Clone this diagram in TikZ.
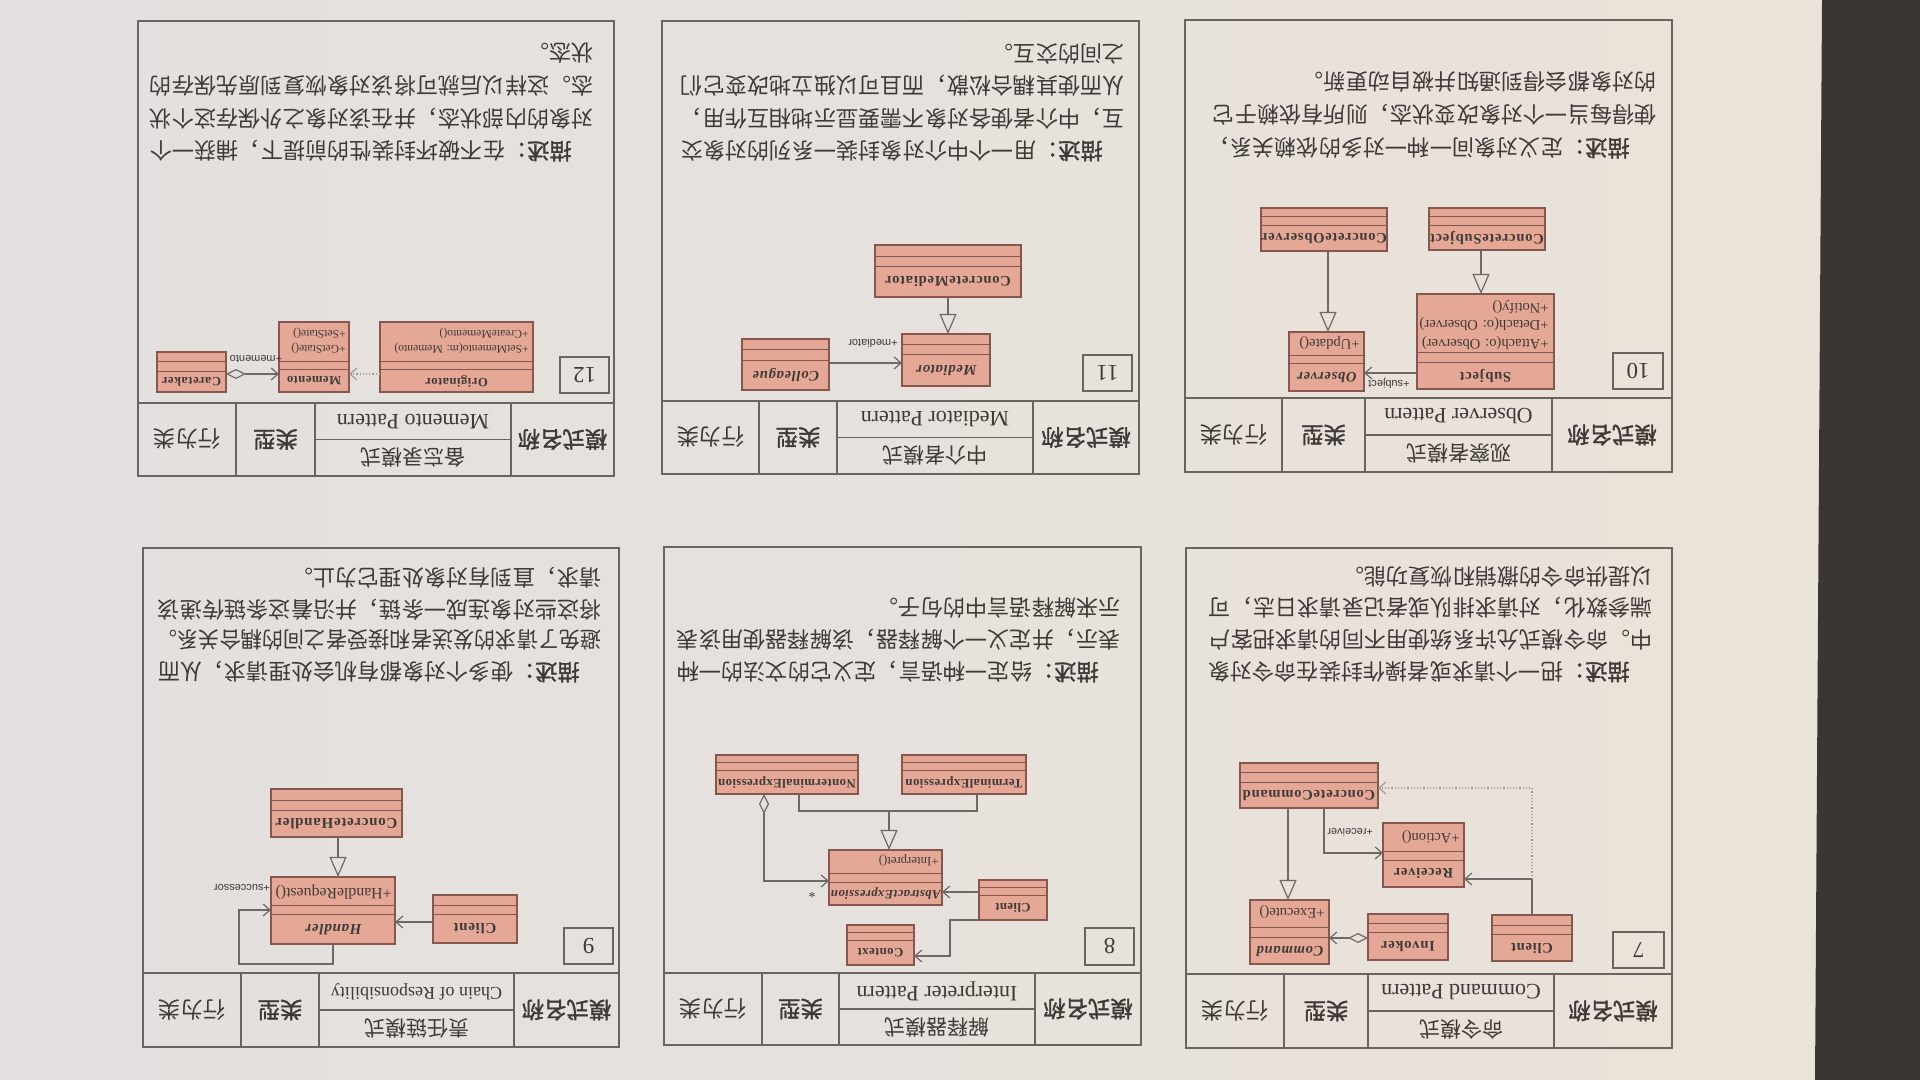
\documentclass[tikz,border=0pt]{standalone}
\usepackage{fontspec}
\setmainfont{Liberation Serif}
\newfontfamily\cjk{Noto Sans CJK SC}
\newfontfamily\cjkm[FakeBold=1.6]{Noto Sans CJK SC}
\newfontfamily\labfont{Liberation Sans}
\usetikzlibrary{arrows.meta}

\definecolor{paperL}{HTML}{E3E0DF}
\definecolor{paperR}{HTML}{EAE3D9}
\definecolor{desk}{HTML}{3A3634}
\definecolor{ink}{HTML}{3F3A38}
\definecolor{rulec}{HTML}{6A6460}
\definecolor{clsfill}{HTML}{E5A896}
\definecolor{clsedge}{HTML}{86574E}
\definecolor{connc}{HTML}{6E6966}
\definecolor{dotc}{HTML}{A39D99}

\tikzset{
  frame/.style={draw=rulec, line width=0.75pt, inner sep=0pt, outer sep=0pt},
  frameline/.style={draw=rulec, line width=0.75pt},
  hdbold/.style={text=ink, inner sep=0pt, font=\cjkm\fontsize{11.2pt}{13pt}\selectfont},
  hdreg/.style={text=ink, inner sep=0pt, font=\cjk\fontsize{11.2pt}{13pt}\selectfont},
  hdname/.style={text=ink, inner sep=0pt, font=\cjk\fontsize{10.5pt}{12pt}\selectfont},
  hden/.style={text=ink, inner sep=0pt, font=\fontsize{11pt}{13pt}\selectfont},
  desc/.style={text=ink, anchor=west, inner sep=0pt, font=\cjk\fontsize{11.1pt}{13pt}\selectfont},
  numbox/.style={draw=rulec, line width=0.75pt, inner sep=0pt, outer sep=0pt},
  numtxt/.style={text=ink, inner sep=0pt, font=\fontsize{11.5pt}{13pt}\selectfont},
  clsbox/.style={draw=clsedge, fill=clsfill, line width=0.55pt, inner sep=0pt, outer sep=0pt},
  clsrule/.style={draw=clsedge, line width=0.5pt},
  clsname/.style={text=ink, inner sep=0pt, font=\bfseries\fontsize{7.3pt}{8pt}\selectfont\addfontfeature{LetterSpace=5}},
  op/.style={text=ink, anchor=west, inner sep=0pt, font=\fontsize{7.3pt}{8pt}\selectfont},
  lab/.style={text=ink, inner sep=0pt, font=\labfont\fontsize{5.5pt}{6pt}\selectfont},
  conn/.style={draw=connc, line width=0.6pt},
  gen/.style={conn, -{Triangle[open, length=10pt, width=8.5pt]}},
  assoc/.style={conn, -{Straight Barb[length=3.5pt, width=6pt]}},
  aggr/.style={conn, {Diamond[open, length=10pt, width=5pt]}-{Straight Barb[length=3.5pt, width=6pt]}},
  dep/.style={draw=dotc, line width=0.6pt, densely dotted, -{Straight Barb[length=3.5pt, width=6pt]}},
}

% panel frame: id, U1, V1, U2, V2, header bottom, three column rules
\newcommand\pframe[9]{%
  \node[frame, anchor=north west, minimum width={(#4-#2)*0.5pt}, minimum height={(#5-#3)*0.5pt}] (#1) at (#2,#3) {};
  \draw[frameline] (#2,#6) -- (#4,#6) (#7,#3) -- (#7,#6) (#8,#3) -- (#8,#6) (#9,#3) -- (#9,#6)
    (#7,{(#3+#6)/2}) -- (#8,{(#3+#6)/2});
  \node[hdbold] (#1-a) at ({(#2+#7)/2},{(#3+#6)/2}) {模式名称};
  \node[hdbold] (#1-b) at ({(#8+#9)/2},{(#3+#6)/2}) {类型};
  \node[hdreg] (#1-c) at ({(#9+#4)/2},{(#3+#6)/2}) {行为类};
  \coordinate (#1-cn) at ({(#7+#8)/2},{(3*#3+#6)/4});
  \coordinate (#1-ec) at ({(#7+#8)/2},{(#3+3*#6)/4});
}
\newcommand\pnames[3]{%
  \node[hdname] (#1-zh) at (#1-cn) {#2};
  \node[hden] (#1-en) at (#1-ec) {#3};
}
\newcommand\numbox[6]{%
  \node[numbox, anchor=north west, minimum width={(#4-#2)*0.5pt}, minimum height={(#5-#3)*0.5pt}] (#1) at (#2,#3) {};
  \node[numtxt] (#1-t) at ({(#2+#4)/2},{(#3+#5)/2}) {#6};
}
% UML class: id, U1, V1, U2, V2, name height, attribute height, name
\newcommand\umlbox[8]{%
  \node[clsbox, anchor=north west, minimum width={(#4-#2)*0.5pt}, minimum height={(#5-#3)*0.5pt}] (#1) at (#2,#3) {};
  \draw[clsrule] (#2,{#3+#6}) -- (#4,{#3+#6}) (#2,{#3+#6+#7}) -- (#4,{#3+#6+#7});
  \node[clsname] (#1-n) at ({(#2+#4)/2},{#3+#6/2}) {#8};
}
\newcommand\bdesc[1]{{\cjkm #1}}

\begin{document}
\begin{tikzpicture}[x=0.5pt, y=0.5pt]
\useasboundingbox (0,0) rectangle (1920,1080);
\shade[left color=paperL, right color=paperR] (0,0) rectangle (1920,1080);
\fill[desk] (1822,1080) -- (1920,1080) -- (1920,0) -- (1815,0) -- cycle;

% the printed sheet lies upside down: draw it upright, then turn it
\begin{scope}[x=0.5pt, y=-0.5pt, shift={(960pt,0pt)}, rotate=180, transform shape]

% ---------------- 7: Command ----------------
\pframe{p7}{248}{32}{734}{532}{106}{366}{552}{636}
\pnames{p7}{命令模式}{Command Pattern}
\numbox{p7-no}{256}{112}{307}{148}{7}
\umlbox{p7-cmd}{591}{116}{670}{180}{26}{10}{\textit{Command}}
\umlbox{p7-inv}{472}{120}{552}{166}{27}{9}{Invoker}
\umlbox{p7-cli}{348}{119}{428}{165}{26}{9}{Client}
\umlbox{p7-rcv}{456}{193}{537}{257}{26}{9}{Receiver}
\umlbox{p7-cc}{542}{272}{680}{317}{25}{10}{ConcreteCommand}
\node[op] (p7-o1) at (595,168) {+Execute()};
\node[op] (p7-o2) at (460,243) {+Action()};
\draw[gen] (632,0 |- p7-cc.north) -- (632,0 |- p7-cmd.south);
\draw[assoc] (596,0 |- p7-cc.north) -- (596,227) -- (p7-rcv.east |- 0,227);
\node[lab, anchor=east] (p7-l) at (593,248) {+receiver};
\draw[conn] (388,0 |- p7-cli.south) -- (388,201) coordinate (p7-j);
\draw[assoc] (p7-j) -- (p7-rcv.west |- p7-j);
\draw[dep] (p7-j) -- (388,292) -- (p7-cc.west |- 0,292);
\draw[aggr] (p7-inv.east |- 0,142) -- (p7-cmd.west |- 0,142);
\node[desc] (p7-d1) at (290,408) {\bdesc{描述：}把一个请求或者操作封装在命令对象};
\node[desc] (p7-d2) at (267,440) {中。命令模式允许系统使用不同的请求把客户};
\node[desc] (p7-d3) at (267,472) {端参数化，对请求排队或者记录请求日志，可};
\node[desc] (p7-d4) at (267,503) {以提供命令的撤销和恢复功能。};

% ---------------- 8: Interpreter ----------------
\pframe{p8}{779}{35}{1256}{533}{107}{885}{1081}{1158}
\pnames{p8}{解释器模式}{Interpreter Pattern}
\numbox{p8-no}{786}{115}{835}{152}{8}
\begin{scope}[clsname/.append style={font=\bfseries\fontsize{6.4pt}{7pt}\selectfont\addfontfeature{LetterSpace=3}},
              op/.append style={font=\fontsize{6.4pt}{7pt}\selectfont}]
\umlbox{p8-abs}{978}{175}{1091}{230}{22}{9}{\textit{AbstractExpression}}
\umlbox{p8-cli}{873}{160}{941}{200}{24}{8}{Client}
\umlbox{p8-ctx}{1006}{115}{1073}{155}{24}{8}{Context}
\umlbox{p8-te}{894}{286}{1018}{325}{23}{8}{TerminalExpression}
\umlbox{p8-nte}{1062}{286}{1204}{325}{23}{8}{NonterminalExpression}
\node[op] (p8-o1) at (981,219) {+Interpret()};
\end{scope}
\draw[conn] (943,0 |- p8-te.north) -- (943,269) -- (1121,269) -- (1121,0 |- p8-nte.north);
\draw[gen] (1031,269) -- (1031,0 |- p8-abs.south);
\draw[aggr] (1156,0 |- p8-nte.north) -- (1156,199) -- (p8-abs.east |- 0,199);
\node[lab, font=\fontsize{7pt}{8pt}\selectfont] (p8-star) at (1108,187) {*};
\draw[assoc] (p8-cli.east |- 0,188) -- (p8-abs.west |- 0,188);
\draw[assoc] (p8-cli.north east) -- (970,160) -- (970,124) -- (p8-ctx.west |- 0,124);
\node[desc] (p8-d1) at (821,408) {\bdesc{描述：}给定一种语言，定义它的文法的一种};
\node[desc] (p8-d2) at (799,440) {表示，并定义一个解释器，该解释器使用该表};
\node[desc] (p8-d3) at (799,472) {示来解释语言中的句子。};

% ---------------- 9: Chain of Responsibility ----------------
\pframe{p9}{1301}{33}{1777}{532}{107}{1406}{1601}{1679}
\pnames{p9}{责任链模式}{\fontsize{9pt}{11pt}\selectfont Chain of Responsibility}
\numbox{p9-no}{1307}{116}{1356}{152}{9}
\begin{scope}[op/.append style={font=\fontsize{7.9pt}{9pt}\selectfont},
              clsname/.append style={font=\bfseries\fontsize{7.5pt}{9pt}\selectfont\addfontfeature{LetterSpace=5}}]
\umlbox{p9-h}{1525}{136}{1649}{203}{29}{9}{\textit{Handler}}
\umlbox{p9-cli}{1403}{137}{1487}{185}{28}{9}{Client}
\umlbox{p9-ch}{1518}{243}{1649}{291}{26}{10}{ConcreteHandler}
\node[op] (p9-o1) at (1528,188) {+HandleRequest()};
\end{scope}
\draw[gen] (1582,0 |- p9-ch.north) -- (1582,0 |- p9-h.south);
\draw[assoc] (p9-cli.east |- 0,158) -- (p9-h.west |- 0,158);
\draw[assoc] (1587,0 |- p9-h.north) -- (1587,116) -- (1681,116) -- (1681,170) -- (p9-h.east |- 0,170);
\node[lab] (p9-l) at (1678,192) {+successor};
\node[desc] (p9-d1) at (1340,408) {\bdesc{描述：}使多个对象都有机会处理请求，从而};
\node[desc] (p9-d2) at (1318,440) {\scalebox{0.955}[1]{避免了请求的发送者和接受者之间的耦合关系。}};
\node[desc] (p9-d3) at (1318,470) {将这些对象连成一条链，并沿着这条链传递该};
\node[desc] (p9-d4) at (1318,502) {请求，直到有对象处理它为止。};

% ---------------- 10: Observer ----------------
\pframe{p10}{248}{608}{735}{1060}{682}{368}{555}{638}
\pnames{p10}{观察者模式}{Observer Pattern}
\numbox{p10-no}{257}{691}{307}{727}{10}
\umlbox{p10-sub}{366}{691}{503}{786}{26}{10}{Subject}
\umlbox{p10-obs}{556}{689}{631}{748}{27}{8}{\textit{Observer}}
\umlbox{p10-cs}{375}{830}{491}{872}{24}{9}{ConcreteSubject}
\umlbox{p10-co}{533}{829}{659}{872}{25}{9}{ConcreteObserver}
\node[op] (p10-o1) at (371,737) {+Attach(o: Observer)};
\node[op] (p10-o2) at (371,756) {+Detach(o: Observer)};
\node[op] (p10-o3) at (371,773) {+Notify()};
\node[op] (p10-o4) at (560,737) {+Update()};
\draw[gen] (439,0 |- p10-cs.north) -- (439,0 |- p10-sub.south);
\draw[gen] (592,0 |- p10-co.north) -- (592,0 |- p10-obs.south);
\draw[assoc] (p10-sub.east |- 0,707) -- (p10-obs.west |- 0,707);
\node[lab] (p10-l) at (531,697) {+subject};
\node[desc] (p10-d1) at (290,932) {\bdesc{描述：}定义对象间一种一对多的依赖关系，};
\node[desc] (p10-d2) at (263,965) {使得每当一个对象改变状态，则所有依赖于它};
\node[desc] (p10-d3) at (263,998) {的对象都会得到通知并被自动更新。};

% ---------------- 11: Mediator ----------------
\pframe{p11}{781}{606}{1258}{1059}{679}{887}{1083}{1161}
\pnames{p11}{中介者模式}{Mediator Pattern}
\numbox{p11-no}{788}{689}{837}{725}{11}
\umlbox{p11-med}{930}{694}{1018}{746}{31}{10}{\textit{Mediator}}
\umlbox{p11-cm}{899}{783}{1045}{835}{30}{10}{ConcreteMediator}
\umlbox{p11-col}{1091}{690}{1178}{741}{29}{11}{\textit{Colleague}}
\draw[gen] (972,0 |- p11-cm.north) -- (972,0 |- p11-med.south);
\draw[assoc] (p11-col.west |- 0,717) -- (p11-med.east |- 0,717);
\node[lab] (p11-l) at (1047,737) {+mediator};
\node[desc] (p11-d1) at (817,929) {\bdesc{描述：}用一个中介对象封装一系列的对象交};
\node[desc] (p11-d2) at (795,961) {互，中介者使各对象不需要显示地相互作用，};
\node[desc] (p11-d3) at (795,994) {从而使其耦合松散，而且可以独立地改变它们};
\node[desc] (p11-d4) at (795,1026) {之间的交互。};

% ---------------- 12: Memento ----------------
\pframe{p12}{1306}{604}{1782}{1059}{677}{1409}{1605}{1684}
\pnames{p12}{备忘录模式}{Memento Pattern}
\numbox{p12-no}{1311}{687}{1360}{723}{12}
\begin{scope}[clsname/.append style={font=\bfseries\fontsize{6.3pt}{7pt}\selectfont\addfontfeature{LetterSpace=4}},
              op/.append style={font=\fontsize{5.8pt}{7pt}\selectfont}]
\umlbox{p12-ori}{1387}{688}{1540}{758}{22}{8}{Originator}
\umlbox{p12-mem}{1571}{688}{1641}{758}{22}{8}{Memento}
\umlbox{p12-car}{1694}{688}{1763}{728}{20}{10}{Caretaker}
\node[op] (p12-o1) at (1391,732) {+SetMemento(m: Memento)};
\node[op] (p12-o2) at (1391,747) {+CreateMemento()};
\node[op] (p12-o3) at (1574,732) {+GetState()};
\node[op] (p12-o4) at (1574,747) {+SetState()};
\end{scope}
\draw[dep] (p12-ori.east |- 0,706) -- (p12-mem.west |- 0,706);
\draw[aggr] (p12-car.west |- 0,706) -- (p12-mem.east |- 0,706);
\node[lab] (p12-l) at (1664,721) {+memento};
\node[desc] (p12-d1) at (1348,929) {\bdesc{描述：}在不破坏封装性的前提下，捕获一个};
\node[desc] (p12-d2) at (1326,961) {对象的内部状态，并在该对象之外保存这个状};
\node[desc] (p12-d3) at (1326,994) {态。这样以后就可将该对象恢复到原先保存的};
\node[desc] (p12-d4) at (1326,1027) {状态。};

\end{scope}
\end{tikzpicture}
\end{document}
